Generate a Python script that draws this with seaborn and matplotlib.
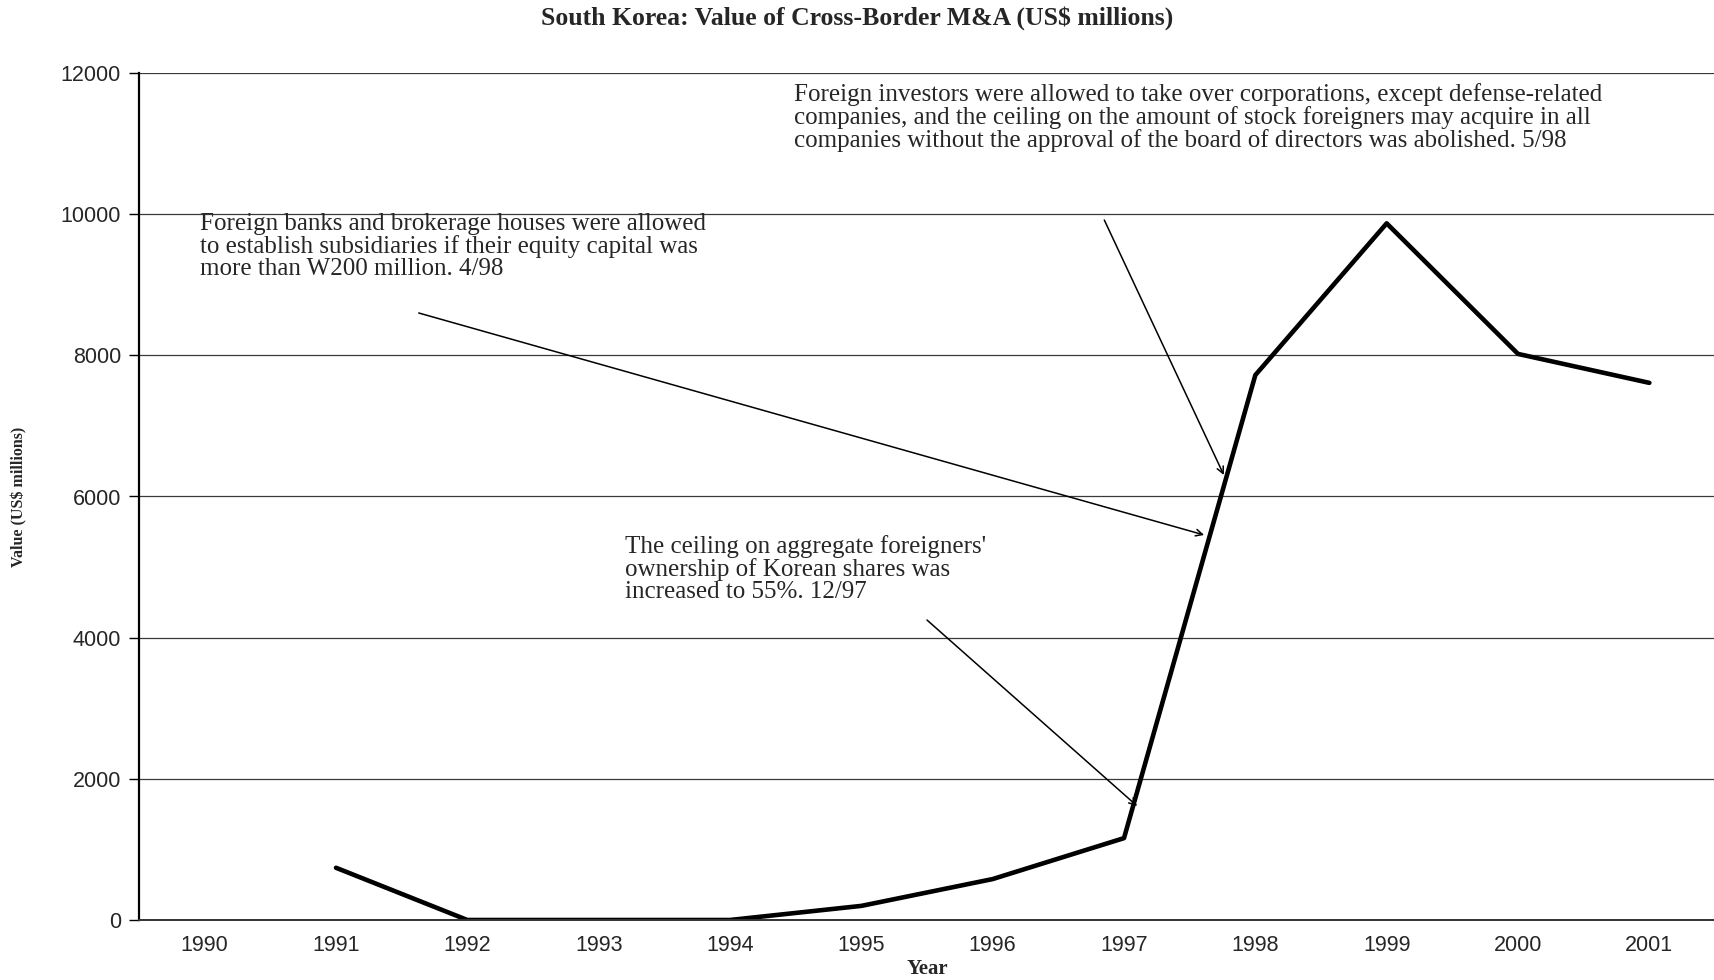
import numpy as np
import pandas as pd
import seaborn as sns
import matplotlib.pyplot as plt
from matplotlib.ticker import FixedLocator

# Cross-border M&A values for South Korea (US$ millions)
years = [1990, 1991, 1992, 1993, 1994, 1995, 1996, 1997, 1998, 1999, 2000, 2001]
values = [np.nan, 740, 0, 0, 0, 200, 580, 1160, 7720, 9870, 8020, 7610]
y_ticks = [0, 2000, 4000, 6000, 8000, 10000, 12000]

notes = [
    "Foreign investors were allowed to take over corporations, except defense-related\n"
    "companies, and the ceiling on the amount of stock foreigners may acquire in all\n"
    "companies without the approval of the board of directors was abolished. 5/98",
    "Foreign banks and brokerage houses were allowed\n"
    "to establish subsidiaries if their equity capital was\n"
    "more than W200 million. 4/98",
    "The ceiling on aggregate foreigners'\n"
    "ownership of Korean shares was\n"
    "increased to 55%. 12/97",
]

df = pd.DataFrame({"Year": years, "Value": values})

sns.set_style("white")
plt.rcParams["font.family"] = ["Liberation Sans", "DejaVu Sans"]
serif = ["Liberation Serif", "DejaVu Serif"]

fig = plt.figure(figsize=(17.15, 9.8), dpi=100)
ax = fig.add_axes([139 / 1715, 60 / 980, 1576 / 1715, 847 / 980])

sns.lineplot(data=df, x="Year", y="Value", color="black", linewidth=3.3, ax=ax)

ax.set_xlim(1989.5, 2001.5)
ax.set_ylim(0, 12000)
ax.set_yticks(y_ticks)
ax.set_yticklabels([str(t) for t in y_ticks])
ax.set_xticks(years)
ax.set_xticklabels([str(y) for y in years])
ax.xaxis.set_minor_locator(FixedLocator(np.arange(1989.5, 2002, 1)))
ax.tick_params(axis="x", which="major", length=0, pad=11, labelsize=15.5)
ax.tick_params(axis="x", which="minor", length=5, width=1, color="#333333", direction="out")
ax.tick_params(axis="y", which="major", length=7, width=1, color="black",
               direction="out", pad=6, labelsize=15.5, left=True)

ax.grid(axis="y", color="#3a3a3a", linewidth=0.9)
ax.set_axisbelow(True)
for side in ["top", "right"]:
    ax.spines[side].set_visible(False)
ax.spines["left"].set_color("black")
ax.spines["left"].set_linewidth(1.6)
ax.spines["bottom"].set_color("#333333")
ax.spines["bottom"].set_linewidth(1.4)

ax.set_xlabel("Year", family=serif, fontweight="bold", fontsize=15)
ax.xaxis.set_label_coords(0.5, -0.046)
ax.set_ylabel("Value (US$ millions)", family=serif, fontweight="bold", fontsize=11.5)
ax.yaxis.set_label_coords(-0.071, 0.5)

fig.suptitle("South Korea: Value of Cross-Border M&A (US$ millions)",
             family=serif, fontweight="bold", fontsize=18.5, x=0.5, y=0.994)

# annotation texts (figure pixel positions of the text blocks)
text_pos = [(794, 83), (200, 213), (625, 535)]
for note, (px, py) in zip(notes, text_pos):
    fig.text(px / 1715, 1 - py / 980, note, family=serif, fontsize=18,
             ha="left", va="top", linespacing=1.0)

# arrows from the notes to the curve
arrows = [((1996.85, 9917), (1997.76, 6305)),
          ((1991.63, 8600), (1997.61, 5455)),
          ((1995.50, 4250), (1997.10, 1615))]
for start, end in arrows:
    ax.annotate("", xy=end, xytext=start,
                arrowprops=dict(arrowstyle="->", color="black", lw=1.1,
                                shrinkA=0, shrinkB=0, mutation_scale=12))

fig.savefig("out.png", dpi=100)
